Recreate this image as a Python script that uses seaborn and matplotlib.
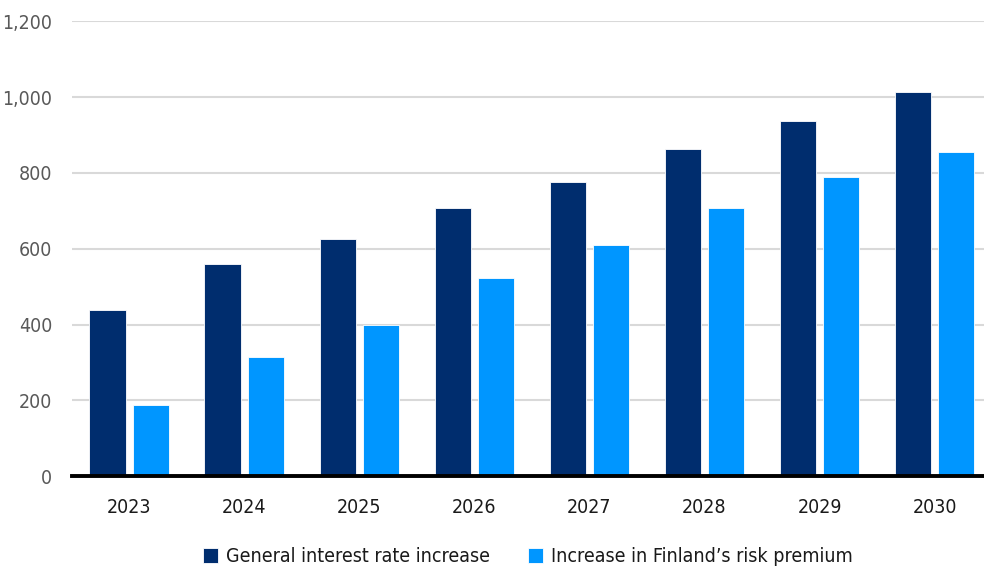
import matplotlib
matplotlib.use("Agg")
import matplotlib.pyplot as plt
import seaborn as sns
import pandas as pd
from matplotlib.ticker import FuncFormatter

years = ["2023", "2024", "2025", "2026", "2027", "2028", "2029", "2030"]
general_rate = [438, 559, 625, 707, 776, 863, 937, 1013]
risk_premium = [187, 314, 399, 523, 609, 707, 789, 855]
series_names = ["General interest rate increase", "Increase in Finland\u2019s risk premium"]
y_ticks = [0, 200, 400, 600, 800, 1000, 1200]

df = pd.DataFrame({
    "year": years * 2,
    "value": general_rate + risk_premium,
    "series": [series_names[0]] * len(years) + [series_names[1]] * len(years),
})

sns.set_theme(style="white")
plt.rcParams["font.family"] = ["DejaVu Sans"]
plt.rcParams["font.stretch"] = "condensed"

fig = plt.figure(figsize=(9.84, 5.73), dpi=100)
ax = fig.add_axes([0.073, 0.169, 0.927, 0.794])

palette = {series_names[0]: "#002d6e", series_names[1]: "#0096ff"}
sns.barplot(data=df, x="year", y="value", hue="series", palette=palette,
            width=0.75, gap=0.15, edgecolor="white", linewidth=0.6,
            saturation=1, ax=ax, zorder=3)

ax.set_ylim(0, 1200)
ax.set_xlim(-0.5, 7.43)
ax.set_yticks(y_ticks)
ax.yaxis.set_major_formatter(FuncFormatter(lambda v, p: f"{int(v):,}"))
ax.grid(axis="y", color="#d9d9d9", linewidth=1.5, zorder=0)
ax.set_axisbelow(True)
for s in ["top", "right", "left"]:
    ax.spines[s].set_visible(False)
ax.spines["bottom"].set_color("black")
ax.spines["bottom"].set_linewidth(2.8)
ax.spines["bottom"].set_zorder(5)
ax.tick_params(axis="y", length=0, pad=14, labelsize=14, labelcolor="#595959")
ax.tick_params(axis="x", length=0, pad=16, labelsize=14, labelcolor="#1a1a1a")
ax.set_xlabel("")
ax.set_ylabel("")

ax.legend(loc="upper center", bbox_to_anchor=(0.5, -0.118), ncol=2, frameon=False,
          fontsize=14, handlelength=0.75, handleheight=0.75, handletextpad=0.4,
          columnspacing=2.0, labelcolor="#1a1a1a")

fig.savefig("out.png", dpi=100)
